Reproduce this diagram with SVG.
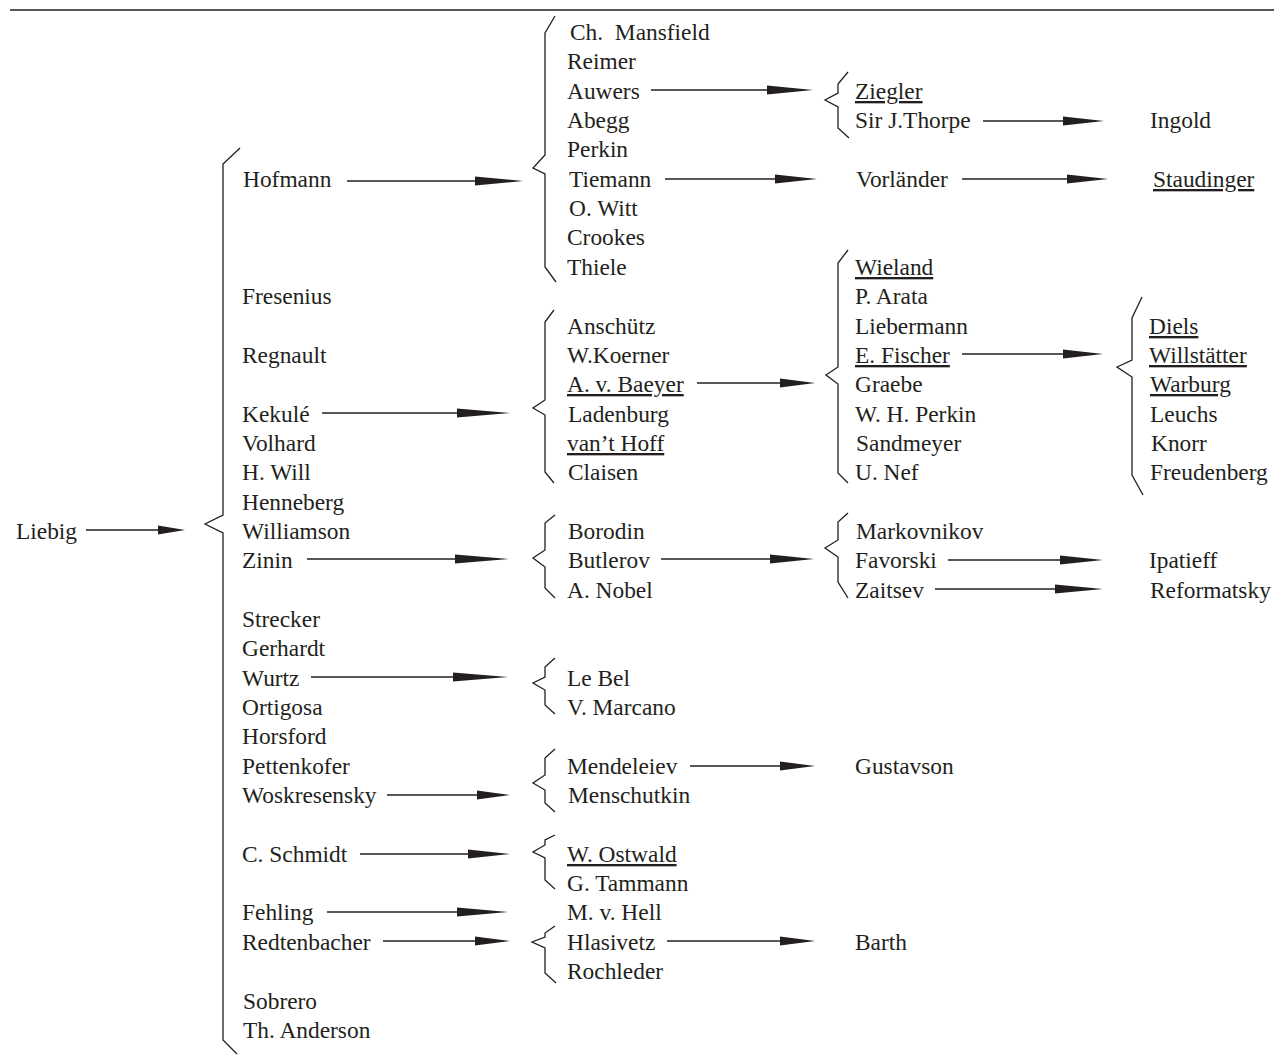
<svg xmlns="http://www.w3.org/2000/svg" width="1274" height="1055" viewBox="0 0 1274 1055">
<style>
text{font-family:"Liberation Serif","Times New Roman",serif;font-size:23.4px;fill:#231f20}
.u{text-decoration:underline}
.ln{stroke:#231f20;stroke-width:1.3;fill:none}
.br{stroke:#231f20;stroke-width:1.3;fill:none;stroke-linejoin:miter}
.hd{fill:#231f20;stroke:none}
</style>
<rect width="1274" height="1055" fill="#ffffff"/>
<line class="ln" x1="10" y1="10" x2="1274" y2="10"/>
<g id="connectors">
<g id="braces">
<path class="br" d="M240,148 L223,164 L223,515 L205,524 L223,533 L223,1040 L237,1054"/>
<path class="br" d="M555,16 L545,33 L545,155 L533,168 L545,174 L545,267 L556,282"/>
<path class="br" d="M848,72 L838,84 L838,93 L825,100 L838,107 L838,128 L849,138"/>
<path class="br" d="M848,250 L838,263 L838,367 L826,375 L838,384 L838,473 L848,483"/>
<path class="br" d="M1142,297 L1132,318 L1132,360 L1117,367 L1132,377 L1132,475 L1143,495"/>
<path class="br" d="M554,310 L545,322 L545,400 L533,408 L545,415 L545,472 L554,483"/>
<path class="br" d="M555,515 L545,523 L545,550 L533,558 L545,567 L545,588 L555,598"/>
<path class="br" d="M848,513 L838,522 L838,540 L825,548 L838,557 L838,582 L848,598"/>
<path class="br" d="M555,658 L545,667 L545,677 L533,683 L545,690 L545,705 L555,714"/>
<path class="br" d="M555,749 L545,758 L545,775 L533,783 L545,790 L545,803 L555,812"/>
<path class="br" d="M555,835 L545,840 L545,845 L533,852 L545,858 L545,880 L555,889"/>
<path class="br" d="M555,926 L545,933 L545,937 L532,942 L545,948 L545,973 L556,983"/>
</g>
<g id="arrows">
<line class="ln" x1="86" y1="530" x2="160" y2="530"/><polygon class="hd" points="158,525.5 185,530 158,534.5"/>
<line class="ln" x1="347" y1="181" x2="477" y2="181"/><polygon class="hd" points="475,176.5 523,181 475,185.5"/>
<line class="ln" x1="651" y1="90" x2="769" y2="90"/><polygon class="hd" points="767,85.5 813,90 767,94.5"/>
<line class="ln" x1="983" y1="121" x2="1065" y2="121"/><polygon class="hd" points="1063,116.5 1104,121 1063,125.5"/>
<line class="ln" x1="665" y1="179" x2="777" y2="179"/><polygon class="hd" points="775,174.5 817,179 775,183.5"/>
<line class="ln" x1="962" y1="179" x2="1069" y2="179"/><polygon class="hd" points="1067,174.5 1108,179 1067,183.5"/>
<line class="ln" x1="322" y1="413" x2="459" y2="413"/><polygon class="hd" points="457,408.5 510,413 457,417.5"/>
<line class="ln" x1="697" y1="383" x2="782" y2="383"/><polygon class="hd" points="780,378.5 815,383 780,387.5"/>
<line class="ln" x1="962" y1="354" x2="1065" y2="354"/><polygon class="hd" points="1063,349.5 1103,354 1063,358.5"/>
<line class="ln" x1="307" y1="559" x2="457" y2="559"/><polygon class="hd" points="455,554.5 509,559 455,563.5"/>
<line class="ln" x1="661" y1="559" x2="772" y2="559"/><polygon class="hd" points="770,554.5 814,559 770,563.5"/>
<line class="ln" x1="948" y1="560" x2="1062" y2="560"/><polygon class="hd" points="1060,555.5 1103,560 1060,564.5"/>
<line class="ln" x1="935" y1="589" x2="1057" y2="589"/><polygon class="hd" points="1055,584.5 1103,589 1055,593.5"/>
<line class="ln" x1="311" y1="677" x2="455" y2="677"/><polygon class="hd" points="453,672.5 508,677 453,681.5"/>
<line class="ln" x1="690" y1="766" x2="782" y2="766"/><polygon class="hd" points="780,761.5 815,766 780,770.5"/>
<line class="ln" x1="387" y1="795" x2="479" y2="795"/><polygon class="hd" points="477,790.5 510,795 477,799.5"/>
<line class="ln" x1="360" y1="854" x2="470" y2="854"/><polygon class="hd" points="468,849.5 510,854 468,858.5"/>
<line class="ln" x1="327" y1="912" x2="459" y2="912"/><polygon class="hd" points="457,907.5 508,912 457,916.5"/>
<line class="ln" x1="383" y1="941" x2="477" y2="941"/><polygon class="hd" points="475,936.5 510,941 475,945.5"/>
<line class="ln" x1="667" y1="941" x2="782" y2="941"/><polygon class="hd" points="780,936.5 815,941 780,945.5"/>
</g>
</g>
<g id="nodes">
<g id="n-liebig"><text x="16" y="539">Liebig</text></g>
<g id="n-hofmann"><text x="243" y="187">Hofmann</text></g>
<g id="n-fresenius"><text x="242" y="304">Fresenius</text></g>
<g id="n-regnault"><text x="242" y="363">Regnault</text></g>
<g id="n-kekule"><text x="242" y="422">Kekulé</text></g>
<g id="n-volhard"><text x="242" y="451">Volhard</text></g>
<g id="n-hwill"><text x="242" y="480">H. Will</text></g>
<g id="n-henneberg"><text x="242" y="510">Henneberg</text></g>
<g id="n-williamson"><text x="242" y="539">Williamson</text></g>
<g id="n-zinin"><text x="242" y="568">Zinin</text></g>
<g id="n-strecker"><text x="242" y="627">Strecker</text></g>
<g id="n-gerhardt"><text x="242" y="656">Gerhardt</text></g>
<g id="n-wurtz"><text x="242" y="686">Wurtz</text></g>
<g id="n-ortigosa"><text x="242" y="715">Ortigosa</text></g>
<g id="n-horsford"><text x="242" y="744">Horsford</text></g>
<g id="n-pettenkofer"><text x="242" y="774">Pettenkofer</text></g>
<g id="n-woskresensky"><text x="242" y="803">Woskresensky</text></g>
<g id="n-cschmidt"><text x="242" y="862">C. Schmidt</text></g>
<g id="n-fehling"><text x="242" y="920">Fehling</text></g>
<g id="n-redtenbacher"><text x="242" y="950">Redtenbacher</text></g>
<g id="n-sobrero"><text x="243" y="1009">Sobrero</text></g>
<g id="n-anderson"><text x="243" y="1038">Th. Anderson</text></g>

<g id="n-mansfield"><text x="570" y="40" style="white-space:pre">Ch.  Mansfield</text></g>
<g id="n-reimer"><text x="567" y="69">Reimer</text></g>
<g id="n-auwers"><text x="567" y="99">Auwers</text></g>
<g id="n-abegg"><text x="567" y="128">Abegg</text></g>
<g id="n-perkin"><text x="567" y="157">Perkin</text></g>
<g id="n-tiemann"><text x="569" y="187">Tiemann</text></g>
<g id="n-owitt"><text x="569" y="216">O. Witt</text></g>
<g id="n-crookes"><text x="567" y="245">Crookes</text></g>
<g id="n-thiele"><text x="567" y="275">Thiele</text></g>
<g id="n-anschutz"><text x="567" y="334">Anschütz</text></g>
<g id="n-koerner"><text x="567" y="363">W.Koerner</text></g>
<g id="n-baeyer"><text x="567" y="392" class="u">A. v. Baeyer</text></g>
<g id="n-ladenburg"><text x="568" y="422">Ladenburg</text></g>
<g id="n-vanthoff"><text x="567" y="451" class="u">van’t Hoff</text></g>
<g id="n-claisen"><text x="568" y="480">Claisen</text></g>
<g id="n-borodin"><text x="568" y="539">Borodin</text></g>
<g id="n-butlerov"><text x="568" y="568">Butlerov</text></g>
<g id="n-nobel"><text x="567" y="598">A. Nobel</text></g>
<g id="n-lebel"><text x="567" y="686">Le Bel</text></g>
<g id="n-marcano"><text x="567" y="715">V. Marcano</text></g>
<g id="n-mendeleiev"><text x="567" y="774">Mendeleiev</text></g>
<g id="n-menschutkin"><text x="568" y="803">Menschutkin</text></g>
<g id="n-ostwald"><text x="567" y="862" class="u">W. Ostwald</text></g>
<g id="n-tammann"><text x="567" y="891">G. Tammann</text></g>
<g id="n-hell"><text x="567" y="920">M. v. Hell</text></g>
<g id="n-hlasivetz"><text x="567" y="950">Hlasivetz</text></g>
<g id="n-rochleder"><text x="567" y="979">Rochleder</text></g>

<g id="n-ziegler"><text x="855" y="99" class="u">Ziegler</text></g>
<g id="n-thorpe"><text x="855" y="128">Sir J.Thorpe</text></g>
<g id="n-vorlander"><text x="856" y="187">Vorländer</text></g>
<g id="n-wieland"><text x="855" y="275" class="u">Wieland</text></g>
<g id="n-arata"><text x="855" y="304">P. Arata</text></g>
<g id="n-liebermann"><text x="855" y="334">Liebermann</text></g>
<g id="n-fischer"><text x="855" y="363" class="u">E. Fischer</text></g>
<g id="n-graebe"><text x="855" y="392">Graebe</text></g>
<g id="n-whperkin"><text x="855" y="422">W. H. Perkin</text></g>
<g id="n-sandmeyer"><text x="856" y="451">Sandmeyer</text></g>
<g id="n-nef"><text x="855" y="480">U. Nef</text></g>
<g id="n-markovnikov"><text x="856" y="539">Markovnikov</text></g>
<g id="n-favorski"><text x="855" y="568">Favorski</text></g>
<g id="n-zaitsev"><text x="855" y="598">Zaitsev</text></g>
<g id="n-gustavson"><text x="855" y="774">Gustavson</text></g>
<g id="n-barth"><text x="855" y="950">Barth</text></g>

<g id="n-ingold"><text x="1150" y="128">Ingold</text></g>
<g id="n-staudinger"><text x="1153" y="187" class="u">Staudinger</text></g>
<g id="n-diels"><text x="1149" y="334" class="u">Diels</text></g>
<g id="n-willstatter"><text x="1149" y="363" class="u">Willstätter</text></g>
<g id="n-warburg"><text x="1150" y="392" class="u">Warburg</text></g>
<g id="n-leuchs"><text x="1150" y="422">Leuchs</text></g>
<g id="n-knorr"><text x="1151" y="451">Knorr</text></g>
<g id="n-freudenberg"><text x="1150" y="480">Freudenberg</text></g>
<g id="n-ipatieff"><text x="1149" y="568">Ipatieff</text></g>
<g id="n-reformatsky"><text x="1150" y="598">Reformatsky</text></g>
</g>
</svg>
